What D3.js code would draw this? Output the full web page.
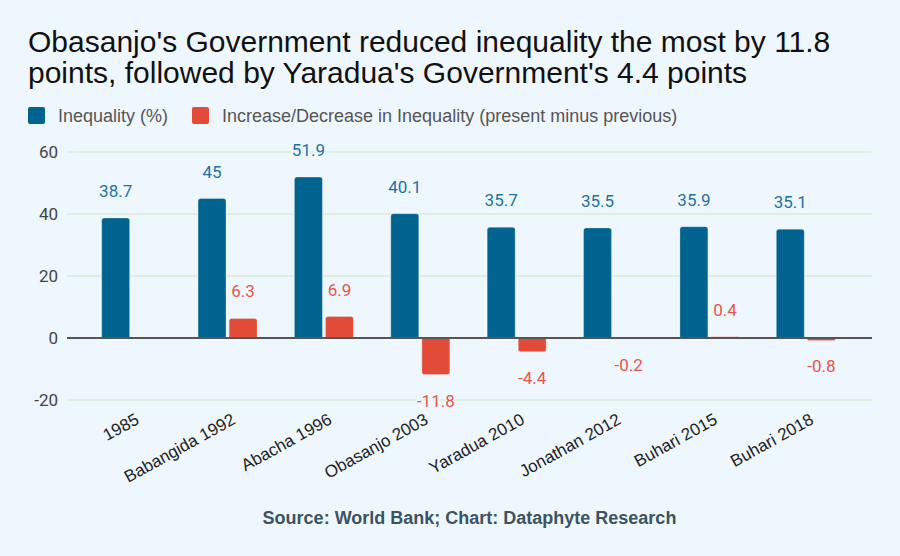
<!DOCTYPE html>
<html><head><meta charset="utf-8">
<script src="https://cdn.jsdelivr.net/npm/d3@7"></script>
<style>
html,body{margin:0;padding:0;background:#eff7fe;}
svg{display:block;}
</style></head>
<body><svg id="c" width="900" height="556"></svg>
<script>
const categories = ["1985","Babangida 1992","Abacha 1996","Obasanjo 2003","Yaradua 2010","Jonathan 2012","Buhari 2015","Buhari 2018"];
const inequality = [38.7,45,51.9,40.1,35.7,35.5,35.9,35.1];
const change = [null,6.3,6.9,-11.8,-4.4,-0.2,0.4,-0.8];
const yTicks = [-20,0,20,40,60];
const seriesNames = ["Inequality (%)","Increase/Decrease in Inequality (present minus previous)"];
const titleLines = ["Obasanjo's Government reduced inequality the most by 11.8","points, followed by Yaradua's Government's 4.4 points"];
const sourceText = "Source: World Bank; Chart: Dataphyte Research";

const BG="#eff7fe", BLUE="#01638f", RED="#e14b37", BLUE_T="#1e71a4", RED_T="#e8544a";
const svg=d3.select("#c");
svg.append("rect").attr("width",900).attr("height",556).attr("fill",BG);

const left=67, right=872;
const x0=d3.scaleBand().domain(categories).range([83,854]);
const x1=d3.scaleBand().domain([0,1]).range([x0.bandwidth()/2-29.5, x0.bandwidth()/2+29.5]).paddingInner(0.1);
const y=d3.scaleLinear().domain([-20,60]).range([400,152]);

// title
const t=svg.append("text").attr("x",28).attr("y",52).attr("font-family","Liberation Sans, Arial, sans-serif").attr("font-size",30).attr("fill","#111");
titleLines.forEach((l,i)=>t.append("tspan").attr("x",28).attr("dy",i?31:0).text(l));

// legend
const lg=svg.append("g").attr("font-family","Liberation Sans, Arial, sans-serif").attr("font-size",18).attr("fill","#555");
const lx=[28,192];
seriesNames.forEach((n,i)=>{
  lg.append("rect").attr("x",lx[i]).attr("y",107).attr("width",17).attr("height",17).attr("rx",2).attr("fill",i?RED:BLUE);
  lg.append("text").attr("x",lx[i]+30).attr("y",121.5).text(n);
});

// grid
const g=svg.append("g");
g.selectAll("line.grid").data(yTicks.filter(d=>d!==0)).join("line")
  .attr("x1",left).attr("x2",right).attr("y1",d=>y(d)).attr("y2",d=>y(d))
  .attr("stroke","#d8ecd6").attr("stroke-width",1.5);
const yAxis=d3.axisLeft(y).tickValues(yTicks).tickSize(0).tickPadding(0).tickFormat(d=>String(d));
const ya=svg.append("g").attr("transform","translate(58,0)").call(yAxis);
ya.select(".domain").remove();
ya.selectAll("text").attr("font-family","Roboto, sans-serif").attr("font-size",17).attr("fill","#444");

function barPath(xp,w,v){
  const y0=y(0), y1=y(v), r=Math.min(2.5,Math.abs(y1-y0)/2);
  if(Math.abs(y1-y0)<0.01) return "";
  const s=v>=0?1:-1;
  return `M${xp},${y0}L${xp},${y1+s*r}Q${xp},${y1} ${xp+r},${y1}L${xp+w-r},${y1}Q${xp+w},${y1} ${xp+w},${y1+s*r}L${xp+w},${y0}Z`;
}
const series=[inequality,change];
const colors=[BLUE,RED], tcols=[BLUE_T,RED_T];
series.forEach((vals,si)=>{
  const data=categories.map((c,i)=>({c,v:vals[i]})).filter(d=>d.v!==null);
  svg.append("g").selectAll("path").data(data).join("path")
    .attr("d",d=>barPath(x0(d.c)+x1(si),x1.bandwidth(),d.v))
    .attr("fill",colors[si]).attr("stroke","rgba(255,255,255,0.35)").attr("stroke-width",0.8);
});
// zero line
svg.append("line").attr("x1",left).attr("x2",right).attr("y1",y(0)).attr("y2",y(0)).attr("stroke","#555").attr("stroke-width",2);

series.forEach((vals,si)=>{
  const data=categories.map((c,i)=>({c,v:vals[i]})).filter(d=>d.v!==null);
  svg.append("g").selectAll("text").data(data).join("text")
    .attr("x",d=>x0(d.c)+x1(si)+x1.bandwidth()/2)
    .attr("y",d=>d.v>=0? y(d.v)-21 : y(d.v)+32)
    .attr("text-anchor","middle").attr("font-family","Roboto, sans-serif").attr("font-size",17)
    .attr("fill",tcols[si]).attr("stroke",BG).attr("stroke-width",4).attr("paint-order","stroke")
    .text(d=>String(d.v));
});

// x labels
svg.append("g").selectAll("text").data(categories).join("text")
  .attr("transform",d=>`translate(${x0(d)+x0.bandwidth()/2+9},${423}) rotate(-29)`)
  .attr("text-anchor","end").attr("font-family","Liberation Sans, Arial, sans-serif")
  .attr("font-size",17).attr("fill","#222").text(d=>d);

// source
svg.append("text").attr("x",469.5).attr("y",524).attr("text-anchor","middle")
  .attr("font-family","Liberation Sans, Arial, sans-serif").attr("font-weight","bold").attr("font-size",18)
  .attr("fill","#3b5363").text(sourceText);
</script></body></html>
